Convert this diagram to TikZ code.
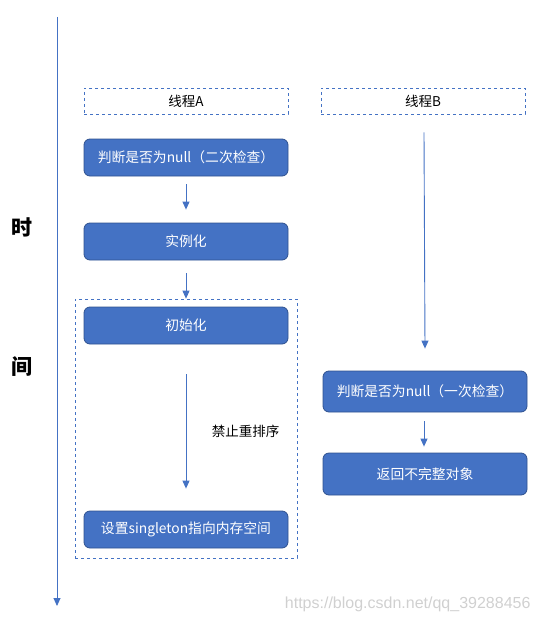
\documentclass[tikz,border=0pt]{standalone}
\usepackage{fontspec}
\setmainfont{Noto Sans CJK SC}
\newfontfamily\wmfont{Liberation Sans}
\usetikzlibrary{arrows.meta}
\definecolor{boxfill}{HTML}{4472C4}
\definecolor{boxline}{HTML}{2F528F}
\definecolor{wmgray}{HTML}{D0D0D0}
\tikzset{
  stepbox/.style={draw=boxline, line width=0.8pt, fill=boxfill, rounded corners=6pt,
    minimum width=204pt, minimum height=37pt, inner sep=0pt, text=white,
    font=\fontsize{13.8}{16}\selectfont},
  threadbox/.style={draw=boxfill, dashed, line width=0.7pt, minimum width=204pt,
    minimum height=26pt, inner sep=0pt, font=\fontsize{13.5}{15}\selectfont},
  arr/.style={draw=boxfill, line width=0.9pt, -{Triangle[length=8pt,width=7pt]}},
  timech/.style={font=\fontsize{21}{23}\selectfont\bfseries},
}
\begin{document}
\begin{tikzpicture}[x=1pt,y=-1pt]
\useasboundingbox (0,0) rectangle (542,623);
% time axis
\coordinate (t0) at (57,17);
\coordinate (t1) at (57,606);
\draw[arr] (t0) -- (t1);
\node[timech] (shi) at (22,227) {时};
\node[timech] (jian) at (22,367) {间};
% thread headers
\node[threadbox] (ta) at (186,101) {线程A};
\node[threadbox] (tb) at (423,101) {线程B};
% container
\node[draw=boxfill, dashed, line width=0.7pt, minimum width=222pt, minimum height=259pt, inner sep=0pt] (grp) at (186,428.5) {};
% thread A boxes
\node[stepbox] (a1) at (186,157.5) {判断是否为null（二次检查）};
\node[stepbox] (a2) at (186,241.5) {实例化};
\node[stepbox] (a3) at (186,325.5) {初始化};
\node[stepbox] (a4) at (186,529.5) {设置singleton指向内存空间};
% thread B boxes
\node[stepbox, minimum height=41pt] (b1) at (425,391.5) {判断是否为null（一次检查）};
\node[stepbox, minimum height=42pt] (b2) at (425,474) {返回不完整对象};
% arrows
\draw[arr] ([yshift=-8pt]a1.south) -- ([yshift=13pt]a2.north);
\draw[arr] ([yshift=-13pt]a2.south) -- (grp.north);
\draw[arr] ([yshift=-30pt]a3.south) -- node[right=22pt, font=\fontsize{13.5}{15}\selectfont] (lbl) {禁止重排序} ([yshift=22pt]a4.north);
\draw[arr] ([xshift=1pt,yshift=-18pt]tb.south) -- ([yshift=22pt]b1.north);
\draw[arr] ([xshift=-1pt,yshift=-9pt]b1.south) -- ([xshift=-1pt,yshift=6pt]b2.north);
% watermark
\node[text=wmgray, font=\wmfont\fontsize{16}{18}\selectfont, anchor=east] (wm) at (534,604) {https://blog.csdn.net/qq\_39288456};
\end{tikzpicture}
\end{document}
